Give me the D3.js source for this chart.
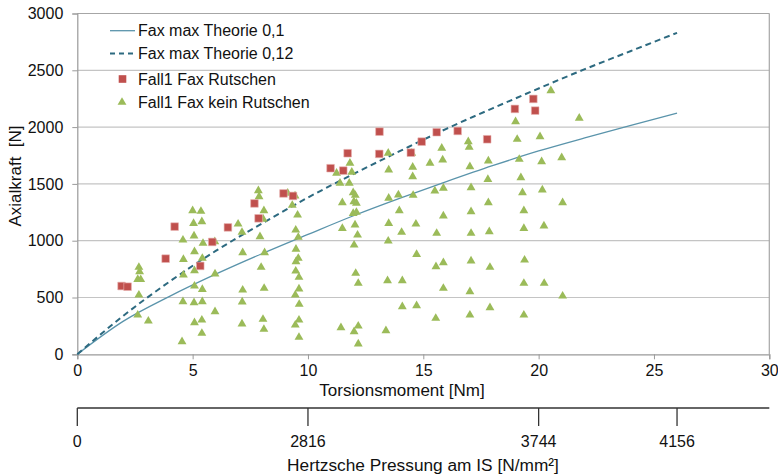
<!DOCTYPE html>
<html>
<head>
<meta charset="utf-8">
<script src="https://cdn.jsdelivr.net/npm/d3@7"></script>
<style>
  body { margin: 0; background: #fff; }
  text { font-family: "Liberation Sans", Arial, sans-serif; fill: #111; white-space: pre; }
</style>
</head>
<body>
<svg id="chart" width="778" height="476"></svg>
<script>
// theory curves (torque Nm, axial force N)
const theoryX = [0, 2, 4, 6, 8, 10, 12, 14, 16, 18, 20, 22, 24, 26];
const theory01 = [0, 292, 510, 705, 885, 1055, 1222, 1375, 1520, 1660, 1790, 1905, 2015, 2122];
const theory012 = [0, 340, 640, 910, 1150, 1380, 1590, 1790, 1985, 2165, 2340, 2510, 2670, 2830];

// Fall1 Fax Rutschen [torque, force]
const rutschen = [
  [1.92, 601], [2.18, 595], [3.83, 842], [4.22, 1124], [5.33, 778], [5.85, 989],
  [6.53, 1117], [7.68, 1328], [7.86, 1197], [8.94, 1416], [9.35, 1394], [10.98, 1638],
  [11.53, 1617], [11.72, 1770], [13.1, 1960], [13.09, 1764], [14.46, 1775], [14.93, 1872],
  [15.58, 1955], [16.49, 1966], [17.77, 1893], [18.97, 2160], [19.77, 2248], [19.85, 2145]
];

// Fall1 Fax kein Rutschen [torque, force]
const keinRutschen = [
  [2.67, 766], [2.7, 727], [2.62, 660], [2.75, 658], [2.67, 522], [2.62, 346], [3.08, 293],
  [4.54, 111], [4.58, 1006], [4.6, 836], [4.6, 698], [4.58, 463],
  [5.0, 1264], [5.04, 1153], [5.06, 1042], [5.08, 903], [5.08, 736], [5.08, 601], [5.06, 454], [5.08, 278],
  [5.36, 1259], [5.4, 1168], [5.45, 977], [5.42, 845], [5.42, 572], [5.42, 463], [5.4, 302], [5.4, 185],
  [5.96, 992], [5.97, 707], [5.97, 375],
  [6.97, 1147], [7.14, 1074], [7.17, 895], [7.17, 566], [7.15, 461], [7.14, 267],
  [7.85, 1441], [7.88, 1388], [7.92, 1036], [7.97, 766], [8.05, 308], [8.09, 220],
  [8.09, 1264], [8.06, 1189], [8.12, 895], [8.1, 581],
  [9.12, 1418], [9.32, 1312], [9.44, 1394],
  [9.55, 1226], [9.47, 1094], [9.58, 1030], [9.48, 925], [9.58, 845], [9.48, 815], [9.47, 733],
  [9.61, 678], [9.61, 575], [9.45, 522], [9.62, 440], [9.61, 302], [9.45, 258], [9.61, 150],
  [11.24, 1594], [11.39, 1506], [11.49, 1335], [11.49, 1109], [11.43, 234],
  [11.82, 1682], [11.9, 1603], [11.79, 1506], [11.96, 1423], [12.05, 1400], [11.99, 1344], [12.1, 1330],
  [11.96, 1241], [12.1, 1250], [12.04, 1139], [12.15, 1050], [12.0, 962], [12.07, 713], [12.18, 625],
  [12.18, 249], [12.0, 199], [12.18, 91],
  [13.48, 1770], [13.5, 1623], [13.5, 1375], [13.5, 1153], [13.48, 997], [13.45, 648], [13.38, 208],
  [13.92, 1403], [13.96, 1264], [14.06, 1074], [14.09, 648], [14.09, 419],
  [14.5, 1770], [14.54, 1647], [14.54, 1564], [14.56, 1400],
  [14.68, 1147], [14.71, 880], [14.71, 428],
  [15.29, 1682], [15.5, 1438], [15.58, 1065], [15.55, 771], [15.54, 317],
  [15.8, 1814], [15.84, 1711], [15.87, 1462], [15.87, 1218], [15.87, 807], [15.87, 581],
  [16.95, 1872], [16.99, 1823], [17.02, 1652], [17.07, 1467], [17.07, 1256], [17.07, 1065],
  [17.07, 822], [17.02, 551], [17.02, 346],
  [17.82, 1702], [17.8, 1540], [17.82, 1335], [17.86, 1080], [17.89, 766], [17.89, 410],
  [19.0, 2048], [19.07, 1893], [19.16, 1717], [19.23, 1555], [19.3, 1423], [19.36, 1264],
  [19.36, 1109], [19.39, 830], [19.36, 625], [19.36, 346],
  [20.06, 1916], [20.13, 1696], [20.16, 1447], [20.23, 1130], [20.24, 625],
  [20.53, 2321], [21.0, 1731], [21.04, 1335], [21.04, 513], [21.76, 2078]
];

const xTicks = [0, 5, 10, 15, 20, 25, 30];
const yTicks = [0, 500, 1000, 1500, 2000, 2500, 3000];
// Hertzsche Pressung: label at torque position
const hertzAt = [0, 10, 20, 26];
const hertzLabels = ["0", "2816", "3744", "4156"];

const legendNames = ["Fax max Theorie 0,1", "Fax max Theorie 0,12", "Fall1 Fax Rutschen", "Fall1 Fax kein Rutschen"];

const svg = d3.select("#chart");
const x = d3.scaleLinear().domain([0, 30]).range([77.3, 769.3]);
const y = d3.scaleLinear().domain([0, 3000]).range([354.3, 13.5]);

const colSolid = "#5a94ab", colDash = "#2d6a80", colRed = "#c0504d", colGreen = "#9bbb59";

// grid
svg.append("g").selectAll("line").data(yTicks.slice(1)).join("line")
  .attr("x1", x(0)).attr("x2", x(30))
  .attr("y1", d => y(d)).attr("y2", d => y(d))
  .attr("stroke", "#c4c4c4").attr("stroke-width", 1.2);

// frame right + top
svg.append("line").attr("x1", x(30)).attr("x2", x(30)).attr("y1", y(0)).attr("y2", y(3000))
  .attr("stroke", "#a6a6a6").attr("stroke-width", 1.2);
svg.append("line").attr("x1", x(0)).attr("x2", x(30)).attr("y1", y(3000)).attr("y2", y(3000))
  .attr("stroke", "#a6a6a6").attr("stroke-width", 1.2);

// axes
const yAxis = svg.append("g").attr("transform", `translate(${x(0)},0)`)
  .call(d3.axisLeft(y).tickValues(yTicks).tickFormat(d3.format("d")).tickSize(5).tickPadding(9));
const xAxis = svg.append("g").attr("transform", `translate(0,${y(0)})`)
  .call(d3.axisBottom(x).tickValues(xTicks).tickSize(5).tickPadding(5));
[xAxis, yAxis].forEach(a => {
  a.select(".domain").attr("stroke", "#9a9a9a").attr("stroke-width", 1.2);
  a.selectAll(".tick line").attr("stroke", "#9a9a9a");
  a.selectAll("text").attr("font-size", 16).attr("fill", "#111")
    .attr("font-family", "Liberation Sans, Arial, sans-serif");
});

// curves
const line = d3.line().x(d => x(d[0])).y(d => y(d[1])).curve(d3.curveMonotoneX);
svg.append("path").datum(theoryX.map((v, i) => [v, theory01[i]]))
  .attr("d", line).attr("fill", "none").attr("stroke", colSolid).attr("stroke-width", 1.3);
svg.append("path").datum(theoryX.map((v, i) => [v, theory012[i]]))
  .attr("d", line).attr("fill", "none").attr("stroke", colDash).attr("stroke-width", 2)
  .attr("stroke-dasharray", "6,4");

// markers
const tri = d3.symbol(d3.symbolTriangle, 34);
const sq = d3.symbol(d3.symbolSquare, 58);
svg.append("g").selectAll("path").data(keinRutschen).join("path")
  .attr("d", tri).attr("transform", d => `translate(${x(d[0])},${y(d[1])})`)
  .attr("fill", colGreen);
svg.append("g").selectAll("path").data(rutschen).join("path")
  .attr("d", sq).attr("transform", d => `translate(${x(d[0])},${y(d[1])})`)
  .attr("fill", colRed).attr("stroke", "#e8b0ae").attr("stroke-width", 0.6);

// legend
const lg = svg.append("g");
const rows = [30.7, 53.5, 79, 102.3];
lg.append("line").attr("x1", 110).attr("x2", 135).attr("y1", rows[0]).attr("y2", rows[0])
  .attr("stroke", colSolid).attr("stroke-width", 1.3);
lg.append("line").attr("x1", 110).attr("x2", 136).attr("y1", rows[1]).attr("y2", rows[1])
  .attr("stroke", colDash).attr("stroke-width", 2).attr("stroke-dasharray", "5,4");
lg.append("path").attr("d", sq).attr("transform", `translate(122.5,${rows[2]})`).attr("fill", colRed);
lg.append("path").attr("d", tri).attr("transform", `translate(122,${rows[3]})`).attr("fill", colGreen);
lg.selectAll("text").data(legendNames).join("text")
  .attr("x", 138).attr("y", (d, i) => rows[i]).attr("dy", "0.35em")
  .attr("font-size", 16).text(d => d);

// axis titles
svg.append("text").attr("x", 402).attr("y", 390).attr("dy", "0.35em")
  .attr("text-anchor", "middle").attr("font-size", 17).text("Torsionsmoment [Nm]");
svg.append("text").attr("transform", "translate(15,176) rotate(-90)").attr("dy", "0.35em")
  .attr("text-anchor", "middle").attr("font-size", 17).text("Axialkraft  [N]");

// secondary axis: Hertzsche Pressung
const sec = svg.append("g");
sec.append("line").attr("x1", x(0)).attr("x2", x(30)).attr("y1", 408).attr("y2", 408)
  .attr("stroke", "#333").attr("stroke-width", 1.3);
sec.selectAll(".tk").data(hertzAt).join("line").attr("class", "tk")
  .attr("x1", d => x(d)).attr("x2", d => x(d)).attr("y1", 408).attr("y2", 426)
  .attr("stroke", "#333").attr("stroke-width", 1.3);
sec.selectAll(".lb").data(hertzAt).join("text").attr("class", "lb")
  .attr("x", d => x(d)).attr("y", 441).attr("dy", "0.35em")
  .attr("text-anchor", "middle").attr("font-size", 16)
  .text((d, i) => hertzLabels[i]);
svg.append("text").attr("x", 423).attr("y", 465).attr("dy", "0.35em")
  .attr("text-anchor", "middle").attr("font-size", 17.3).text("Hertzsche Pressung am IS [N/mm²]");
</script>
</body>
</html>
